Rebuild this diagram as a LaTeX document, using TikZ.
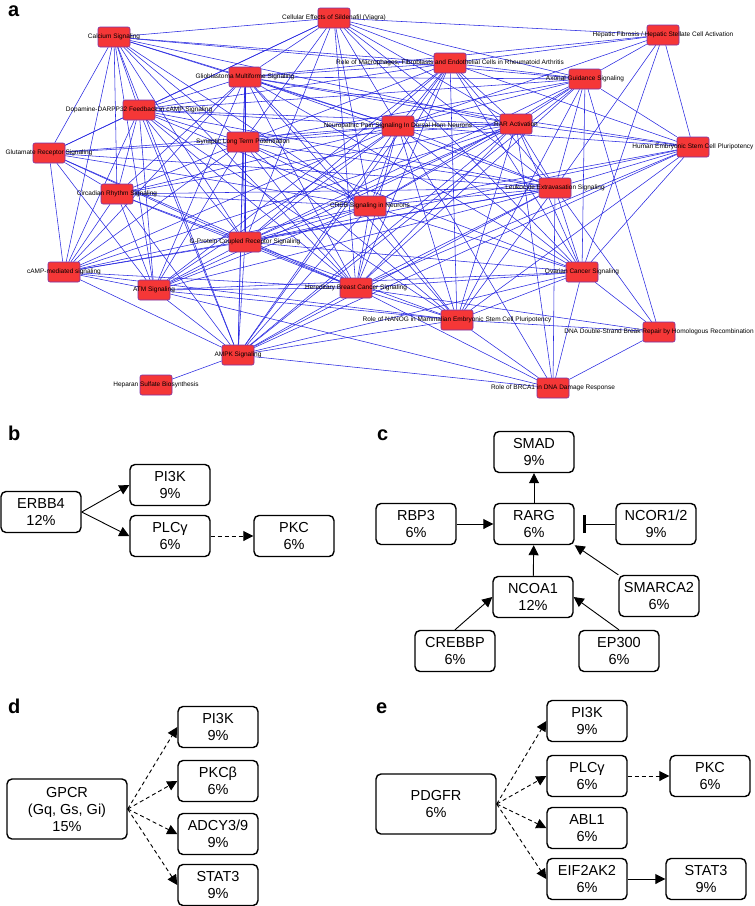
\documentclass[tikz,border=0pt]{standalone}
\usepackage{fontspec}
\setmainfont{Liberation Sans}
\usetikzlibrary{arrows.meta,backgrounds}

\definecolor{boxred}{RGB}{245,55,55}
\definecolor{boxedge}{RGB}{120,50,170}
\definecolor{netblue}{RGB}{40,40,225}

\tikzset{
  pathbox/.style={draw=boxedge, fill=boxred, line width=0.6pt, rounded corners=2pt,
    minimum width=32pt, minimum height=20pt, inner sep=0pt},
  pathlabel/.style={font=\fontsize{6.5}{7}\selectfont, inner sep=0pt},
  netedge/.style={draw=netblue, line width=0.55pt},
  genebox/.style={draw, line width=1.4pt, rounded corners=5pt, minimum width=80pt,
    minimum height=41pt, align=center, inner sep=1pt, font=\fontsize{14.5}{17}\selectfont},
  bigbox/.style={genebox, minimum width=120pt, minimum height=60pt},
  act/.style={-{Triangle[length=10pt,width=10pt]}, line width=0.9pt},
  dashact/.style={act, dash pattern=on 4pt off 3pt},
  inhib/.style={-{Bar[width=18pt,line width=3pt]}, line width=0.9pt, shorten >=8pt},
  panel/.style={font=\fontsize{20}{20}\selectfont\bfseries, anchor=base west, inner sep=0pt}
}

\begin{document}
\begin{tikzpicture}[x=1pt, y=-1pt]

  \useasboundingbox (0,0) rectangle (755,906);

  % Panel labels
  \node[panel] (la) at (8,16) {a};
  \node[panel] (lb) at (8,440) {b};
  \node[panel] (lc) at (377,440) {c};
  \node[panel] (ld) at (8,713) {d};
  \node[panel] (le) at (376,713) {e};

  % Pathway boxes of the network
  \foreach \id/\px/\py in {sil/334/18, cal/114/37, hep/663/35, mac/450/63, gli/245/77,
      axo/585/79, dop/139/110, neu/398/126, rar/516/124, syn/243/142, hes/693/147,
      glu/49/153, leu/555/188, cir/117/194, cre/370/206, gpc/245/242, cam/64/272,
      ova/582/272, atm/154/290, hbc/356/288, nan/457/320, dna/659/332, amp/238/355,
      hsb/156/385, brc/553/388}
    \node[pathbox] (\id) at (\px,\py) {};

  % Links between pathways
  \begin{scope}[on background layer]
    \foreach \a/\others in {
        sil/{cal,hep,mac,gli,axo,dop,syn,neu,rar,cre,gpc,leu,hbc,ova,glu},
        cal/{dop,glu,gli,syn,neu,rar,cir,cam,gpc,cre,hbc,atm,mac,axo,amp},
        hep/{mac,gli,axo,hes,ova,leu,neu},
        mac/{gli,dop,syn,neu,rar,axo,leu,cre,gpc,hbc,nan,ova,amp,hes,atm},
        gli/{dop,syn,neu,rar,axo,leu,cre,gpc,hbc,nan,ova,amp,cir,atm,cam,hes},
        axo/{neu,rar,syn,leu,cre,gpc,hbc,nan,ova,hes,dna,amp,dop},
        dop/{glu,syn,neu,rar,cir,cre,gpc,cam,atm,hbc,amp,leu,nan},
        neu/{rar,syn,leu,cre,gpc,hbc,nan,ova,atm,cam,glu,cir,amp,hes,brc},
        rar/{syn,leu,cre,gpc,hbc,nan,ova,hes,atm,cam,amp,cir,brc},
        syn/{glu,cir,cre,gpc,leu,cam,atm,hbc,amp,nan,ova},
        hes/{leu,gpc,hbc,nan,ova,cre,amp},
        glu/{cir,cam,gpc,cre,leu,atm,hbc},
        leu/{cre,gpc,cir,hbc,nan,ova,cam,atm,amp,dna,brc},
        cir/{cre,gpc,cam,atm,hbc,amp},
        cre/{gpc,hbc,nan,ova,cam,atm,amp},
        gpc/{cam,atm,hbc,nan,ova,amp},
        cam/{atm,hbc,amp,nan},
        ova/{hbc,nan,dna,brc,amp,atm},
        atm/{hbc,amp,nan,brc},
        hbc/{nan,amp,brc,dna},
        nan/{dna,brc,amp},
        dna/{brc},
        amp/{hsb,brc}}
      \foreach \b in \others
        \draw[netedge] (\a) -- (\b);
  \end{scope}

  % Pathway names on top of the boxes
  \foreach \id/\txt in {sil/{Cellular Effects of Sildenafil (Viagra)},
      cal/{Calcium Signaling},
      hep/{Hepatic Fibrosis / Hepatic Stellate Cell Activation},
      mac/{Role of Macrophages, Fibroblasts and Endothelial Cells in Rheumatoid Arthritis},
      gli/{Glioblastoma Multiforme Signaling},
      axo/{Axonal Guidance Signaling},
      dop/{Dopamine-DARPP32 Feedback in cAMP Signaling},
      neu/{Neuropathic Pain Signaling In Dorsal Horn Neurons},
      rar/{RAR Activation},
      syn/{Synaptic Long Term Potentiation},
      hes/{Human Embryonic Stem Cell Pluripotency},
      glu/{Glutamate Receptor Signaling},
      leu/{Leukocyte Extravasation Signaling},
      cir/{Circadian Rhythm Signaling},
      cre/{CREB Signaling in Neurons},
      gpc/{G-Protein Coupled Receptor Signaling},
      cam/{cAMP-mediated signaling},
      ova/{Ovarian Cancer Signaling},
      atm/{ATM Signaling},
      hbc/{Hereditary Breast Cancer Signaling},
      nan/{Role of NANOG in Mammalian Embryonic Stem Cell Pluripotency},
      dna/{DNA Double-Strand Break Repair by Homologous Recombination},
      amp/{AMPK Signaling},
      hsb/{Heparan Sulfate Biosynthesis},
      brc/{Role of BRCA1 in DNA Damage Response}}
    \node[pathlabel] (\id-txt) at (\id) {\txt};

  % Panel b
  \node[genebox] (erbb) at (41,512) {ERBB4\\12\%};
  \node[genebox] (bpik) at (170,485) {PI3K\\9\%};
  \node[genebox] (bplc) at (170,536) {PLCγ\\6\%};
  \node[genebox] (bpkc) at (294,536) {PKC\\6\%};
  \draw[act] (erbb.east) -- (bpik.west);
  \draw[act] (erbb.east) -- (bplc.west);
  \draw[dashact] (bplc) -- (bpkc);

  % Panel c
  \node[genebox] (smad) at (534,452) {SMAD\\9\%};
  \node[genebox] (rarg) at (534,524) {RARG\\6\%};
  \node[genebox] (rbp) at (416,524) {RBP3\\6\%};
  \node[genebox] (ncor) at (656,524) {NCOR1/2\\9\%};
  \node[genebox] (ncoa) at (533,597) {NCOA1\\12\%};
  \node[genebox] (smarca) at (659,596) {SMARCA2\\6\%};
  \node[genebox] (crebbp) at (455,651) {CREBBP\\6\%};
  \node[genebox] (ep) at (619,651) {EP300\\6\%};
  \draw[act] (rarg) -- (smad);
  \draw[act] (rbp) -- (rarg);
  \draw[inhib] (ncor) -- (rarg);
  \draw[act] (ncoa) -- (rarg);
  \draw[act] (smarca.north west) -- (rarg.south east);
  \draw[act] (crebbp.north) -- (ncoa.west);
  \draw[act] (ep.north) -- (ncoa.east);

  % Panel d
  \node[bigbox] (gpcr) at (67,809) {GPCR\\(Gq, Gs, Gi)\\15\%};
  \node[genebox] (dpik) at (218,727) {PI3K\\9\%};
  \node[genebox] (dpkc) at (218,781) {PKCβ\\6\%};
  \node[genebox] (adcy) at (218,834) {ADCY3/9\\9\%};
  \node[genebox] (dstat) at (218,885) {STAT3\\9\%};
  \foreach \t in {dpik,dpkc,adcy,dstat}
    \draw[dashact] (gpcr.east) -- (\t.west);

  % Panel e
  \node[bigbox] (pdgf) at (436,804) {PDGFR\\6\%};
  \node[genebox] (epik) at (587,721) {PI3K\\9\%};
  \node[genebox] (eplc) at (587,776) {PLCγ\\6\%};
  \node[genebox] (epkc) at (710,776) {PKC\\6\%};
  \node[genebox] (abl) at (587,828) {ABL1\\6\%};
  \node[genebox] (eif) at (587,879) {EIF2AK2\\6\%};
  \node[genebox] (estat) at (706,879) {STAT3\\9\%};
  \foreach \t in {epik,eplc,abl,eif}
    \draw[dashact] (pdgf.east) -- (\t.west);
  \draw[dashact] (eplc) -- (epkc);
  \draw[act] (eif) -- (estat);

\end{tikzpicture}
\end{document}
